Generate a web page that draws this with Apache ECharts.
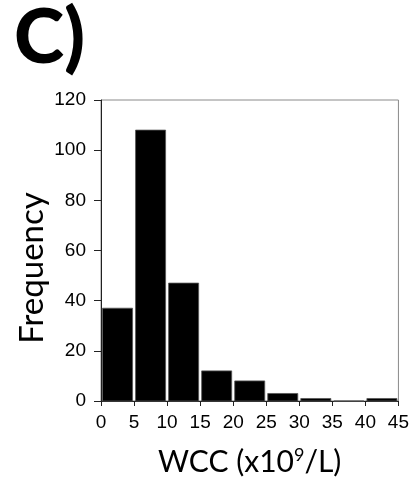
<!DOCTYPE html>
<html>
<head>
<meta charset="utf-8">
<script src="https://cdn.jsdelivr.net/npm/echarts@6/dist/echarts.min.js"></script>
<style>
  html, body { margin: 0; padding: 0; background: #fff; }
  #chart { width: 412px; height: 483px; }
</style>
</head>
<body>
<div id="chart"></div>
<script>
// Histogram of white cell count: bin edges (x10^9/L) and counts per bin
const binStarts = [0, 5, 10, 15, 20, 25, 30, 35, 40];
const binWidth = 5;
const counts = [37, 108, 47, 12, 8, 3, 1, 0, 1];
const yTicks = [0, 20, 40, 60, 80, 100, 120];
const xTicks = [0, 5, 10, 15, 20, 25, 30, 35, 40, 45];

const chart = echarts.init(document.getElementById('chart'), null, { renderer: 'canvas' });

const tickFont = { fontFamily: 'Liberation Sans, Arial, sans-serif', fontSize: 19, color: '#000' };

chart.setOption({
  animation: false,
  grid: {
    left: 101, top: 100, right: 13, bottom: 82,
    show: true, borderColor: '#8a8a8a', borderWidth: 1, backgroundColor: 'transparent'
  },
  xAxis: {
    type: 'value',
    min: xTicks[0], max: xTicks[xTicks.length - 1], interval: 5,
    axisLine: { show: true, onZero: false, lineStyle: { color: '#222', width: 1 } },
    axisTick: { show: true, inside: false, length: 5, lineStyle: { color: '#222' } },
    splitLine: { show: false },
    axisLabel: Object.assign({ margin: 12 }, tickFont),
    name: 'WCC (x10{sup|9}/L)',
    nameLocation: 'middle',
    nameGap: 45,
    nameTextStyle: {
      fontFamily: 'Lato, "Open Sans", sans-serif', fontSize: 30, color: '#000',
      rich: { sup: { fontFamily: 'Lato, "Open Sans", sans-serif', fontSize: 18, color: '#000', verticalAlign: 'top', padding: [0, 0, 15, 0] } }
    }
  },
  yAxis: {
    type: 'value',
    min: yTicks[0], max: yTicks[yTicks.length - 1], interval: 20,
    axisLine: { show: true, onZero: false, lineStyle: { color: '#222', width: 1 } },
    axisTick: { show: true, inside: false, length: 7, lineStyle: { color: '#222' } },
    splitLine: { show: false },
    axisLabel: Object.assign({ margin: 15 }, tickFont)
  },
  graphic: [
    {
      type: 'text', left: 14, top: 0,
      style: { text: 'C)', font: '900 76px Lato, "Open Sans", sans-serif', fill: '#000' }
    },
    {
      type: 'text', x: 32, y: 268, rotation: Math.PI / 2,
      style: {
        text: 'Frequency', font: '33px Lato, "Open Sans", sans-serif', fill: '#000',
        align: 'center', verticalAlign: 'middle'
      }
    }
  ],
  series: [{
    type: 'custom',
    data: binStarts.map((s, i) => [s, s + binWidth, counts[i]]),
    renderItem: function (params, api) {
      const p0 = api.coord([api.value(0), 0]);
      const p1 = api.coord([api.value(1), api.value(2)]);
      const inset = 1.5;
      return {
        type: 'rect',
        shape: { x: p0[0] + inset, y: p1[1], width: p1[0] - p0[0] - 2 * inset, height: p0[1] - p1[1] },
        style: { fill: '#000', stroke: '#555', lineWidth: 0.8 }
      };
    },
    encode: { x: [0, 1], y: 2 }
  }]
});
</script>
</body>
</html>
